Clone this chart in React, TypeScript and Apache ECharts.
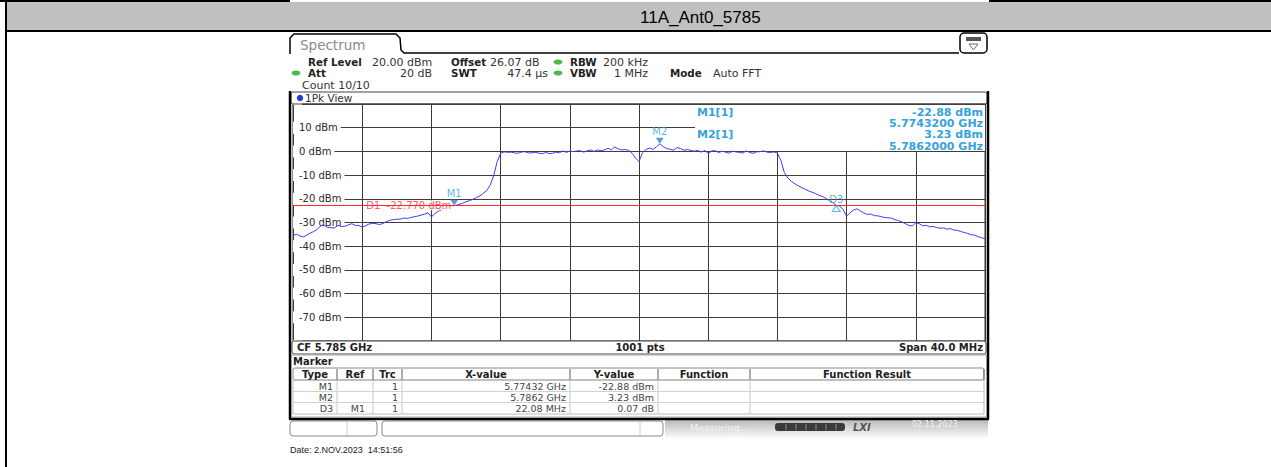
import React, { useEffect, useRef } from 'react';
import * as echarts from 'echarts';

// ---------- data ----------
const TITLE = '11A_Ant0_5785';
const centerFreqMHz = 5785;
const spanMHz = 40;
const sweepPoints = 1001;
const traceStepMHz = 0.2;
const xDivisionMHz = 4;
const refLevelDbm = 20;
const bottomLevelDbm = -80;
const levelDivisionDb = 10;
const offsetDb = 26.07;
const rbwKHz = 200;
const vbwMHz = 1;
const attDb = 20;
const swtUs = 47.4;
const sweepCount = '10/10';
const d1LevelDbm = -22.77;

// trace level (dBm) every 0.2 MHz from CF-20 MHz to CF+20 MHz
const traceLevels = [
  -35.5, -34.9, -35.7, -36.1, -35.3, -34.4, -33.8, -32.9, -31.4, -31.2,
  -32.1, -32.2, -32.3, -31.2, -31.7, -31.6, -31.0, -30.5, -31.2, -31.3,
  -31.9, -31.4, -30.6, -30.4, -30.5, -30.9, -30.4, -29.6, -29.1, -28.8,
  -28.6, -28.6, -28.1, -28.3, -27.9, -27.6, -27.3, -26.9, -26.5, -25.9,
  -27.6, -26.3, -25.2, -24.6, -24.0, -23.4, -23.0, -22.8, -22.4, -21.9,
  -21.2, -20.8, -20.2, -19.5, -18.8, -17.7, -16.5, -14.2, -10.2, -4.4,
  -0.8, -0.2, -0.4, -0.3, -0.6, -0.8, -0.3, -0.1, -0.6, -0.6,
  -0.4, -0.7, -1.0, -0.4, -0.9, -0.8, -0.3, -0.6, 0.2, -0.4,
  0.1, -0.1, 0.2, 0.3, -0.3, 0.2, 0.6, 0.0, 0.6, 0.3,
  0.6, 1.3, 0.7, 1.9, 1.0, 0.6, 0.8, 0.5, -0.8, -2.8,
  -4.3, -0.6, 0.8, 1.4, 0.8, 1.9, 3.2, 2.0, 1.2, 0.9,
  0.5, 1.6, 1.2, 0.5, 0.8, 0.4, 0.1, 0.4, -0.3, 0.4,
  -0.9, 0.2, 0.3, -0.5, 0.1, -0.3, -0.8, 0.1, -0.2, -0.4,
  -0.7, 0.2, -0.5, -0.8, -0.2, -0.1, 0.2, -0.3, -0.5, -0.2,
  -0.8, -3.8, -8.9, -11.2, -12.6, -13.6, -14.5, -15.3, -15.9, -16.7,
  -17.2, -17.8, -18.5, -19.0, -19.8, -20.8, -21.6, -22.8, -23.0, -24.6,
  -27.3, -25.9, -24.8, -24.2, -25.1, -26.0, -26.6, -26.4, -27.1, -27.2,
  -27.5, -27.9, -28.0, -28.2, -28.8, -29.2, -29.8, -30.5, -31.3, -31.4,
  -30.1, -30.5, -31.4, -31.2, -31.8, -31.7, -32.1, -32.4, -32.3, -32.8,
  -32.6, -33.2, -33.3, -33.8, -34.2, -34.6, -35.2, -35.3, -36.0, -36.4,
  -36.9,
];

// markers
const m1OffsetMHz = -10.68;
const m1LevelDbm = -22.88;
const m2OffsetMHz = 1.2;
const m2LevelDbm = 3.23;
const d3DeltaMHz = 22.08;
const d3DeltaDb = 0.07;
const markerTypes = ['M1', 'M2', 'D3'];
const markerRefs = ['', '', 'M1'];
const markerTrc = [1, 1, 1];
const tableHeaders = ['Type', 'Ref', 'Trc', 'X-value', 'Y-value', 'Function', 'Function Result'];

// ---------- helpers ----------
const FONT = '"DejaVu Sans", Verdana, sans-serif';
const ARIAL = '"Liberation Sans", Arial, sans-serif';
const MK = '#36a2dc';

function T(x: number, y: number, text: string, o: any = {}) {
  return {
    type: 'text', x, y, z: o.z ?? 20, silent: true,
    style: {
      text,
      fill: o.fill ?? '#222',
      font: `${o.italic ? 'italic ' : ''}${o.bold ? 'bold ' : ''}${o.size ?? 10}px ${o.family ?? FONT}`,
      textAlign: o.align ?? 'left',
      textVerticalAlign: 'middle',
    },
  };
}
function R(x: number, y: number, w: number, h: number, o: any = {}) {
  return {
    type: 'rect', z: o.z ?? 5, silent: true,
    shape: { x, y, width: w, height: h, r: o.r ?? 0 },
    style: { fill: o.fill ?? 'none', stroke: o.stroke ?? 'none', lineWidth: o.lw ?? 1 },
  };
}
function L(x1: number, y1: number, x2: number, y2: number, o: any = {}) {
  return {
    type: 'line', z: o.z ?? 6, silent: true,
    shape: { x1, y1, x2, y2 },
    style: { stroke: o.stroke ?? '#000', lineWidth: o.lw ?? 1 },
  };
}
const ghz = (mhz: number, d: number) => (mhz / 1000).toFixed(d);
const trimGhz = (mhz: number) => String(parseFloat((mhz / 1000).toFixed(7)));

export default function App() {
  const ref = useRef<HTMLDivElement>(null);
  useEffect(() => {
    if (!ref.current) return;
    const chart = echarts.init(ref.current, undefined, { renderer: 'svg' });

    const traceData = traceLevels.map((v, i) => [-spanMHz / 2 + i * traceStepMHz, v]);
    const d3OffsetMHz = m1OffsetMHz + d3DeltaMHz;
    const d3LevelDbm = m1LevelDbm + d3DeltaDb;

    const g: any[] = [];
    // page frame & title band
    g.push(R(7, 2, 1264, 28, { fill: '#c0c0c0', z: 1 }));
    g.push(T(640, 17, TITLE, { family: ARIAL, size: 17, fill: '#000' }));
    g.push(L(0, 1, 290, 1, { lw: 2 }));
    g.push(L(989, 1, 1271, 1, { lw: 2 }));
    g.push(L(6, 31, 1271, 31, { lw: 2 }));
    g.push(L(6, 0, 6, 467, { lw: 2 }));

    // Spectrum tab
    g.push({
      type: 'polyline', z: 6, silent: true,
      shape: { points: [[290, 54], [290, 38], [294, 34], [396, 34], [400, 38], [401, 50], [404, 53], [959, 53]] },
      style: { stroke: '#000', lineWidth: 1.5, fill: 'none' },
    });
    g.push(T(300, 45, 'Spectrum', { size: 13.5, fill: '#8a8a8a' }));
    g.push(R(960, 33, 27, 20, { stroke: '#000', lw: 1.5, r: 4 }));
    g.push(R(966, 37, 15, 4, { fill: '#555', z: 7 }));
    g.push({ type: 'polygon', z: 7, silent: true, shape: { points: [[969, 44], [978, 44], [973.5, 50]] }, style: { fill: 'none', stroke: '#666', lineWidth: 1 } });

    // setup lines
    const HS = 11;
    const HB = 10.3;
    const green = (x: number, y: number) => ({ type: 'ellipse', z: 7, silent: true, shape: { cx: x, cy: y, rx: 4.5, ry: 2.6 }, style: { fill: '#4cb84c' } });
    g.push(T(308, 62, 'Ref Level', { bold: true, size: HB }));
    g.push(T(372, 62, `${refLevelDbm.toFixed(2)} dBm`, { fill: '#333', size: HS }));
    g.push(T(451, 62, 'Offset', { bold: true, size: HB }));
    g.push(T(490, 62, `${offsetDb.toFixed(2)} dB`, { fill: '#333', size: HS }));
    g.push(green(558, 62));
    g.push(T(570, 62, 'RBW', { bold: true, size: HB }));
    g.push(T(648, 62, `${rbwKHz} kHz`, { fill: '#333', align: 'right', size: HS }));
    g.push(green(296, 73));
    g.push(T(308, 73, 'Att', { bold: true, size: HB }));
    g.push(T(432, 73, `${attDb} dB`, { fill: '#333', align: 'right', size: HS }));
    g.push(T(451, 73, 'SWT', { bold: true, size: HB }));
    g.push(T(548, 73, `${swtUs} µs`, { fill: '#333', align: 'right', size: HS }));
    g.push(green(558, 73));
    g.push(T(570, 73, 'VBW', { bold: true, size: HB }));
    g.push(T(648, 73, `${vbwMHz} MHz`, { fill: '#333', align: 'right', size: HS }));
    g.push(T(670, 73, 'Mode', { bold: true, size: HB }));
    g.push(T(713, 73, 'Auto FFT', { fill: '#333', size: HS }));
    g.push(T(302, 85, `Count ${sweepCount}`, { fill: '#333', size: HS }));

    // 1Pk View bar
    g.push(R(291, 92, 696, 12, { stroke: '#444', r: 2 }));
    g.push({ type: 'circle', z: 7, silent: true, shape: { cx: 300, cy: 98, r: 3.2 }, style: { fill: '#1f3fd6' } });
    g.push(T(305, 98, '1Pk View', { fill: '#333', size: 10.5 }));

    // outer screen frame
    g.push(L(290, 91, 290, 419, { lw: 2.5 }));
    g.push(L(988, 91, 988, 419, { lw: 2.5 }));
    g.push(L(289, 419, 989, 419, { lw: 2.5 }));

    // marker info box (top right of diagram)
    const MS = 11;
    g.push(R(695, 105, 290, 46, { fill: '#fff', z: 1 }));
    g.push(T(697, 112, 'M1[1]', { bold: true, fill: MK, size: MS }));
    g.push(T(983, 112, `${m1LevelDbm.toFixed(2)} dBm`, { bold: true, fill: MK, size: MS, align: 'right' }));
    g.push(T(983, 123, `${ghz(centerFreqMHz + m1OffsetMHz, 7)} GHz`, { bold: true, fill: MK, size: MS, align: 'right' }));
    g.push(T(697, 134.5, 'M2[1]', { bold: true, fill: MK, size: MS }));
    g.push(T(983, 134.5, `${m2LevelDbm.toFixed(2)} dBm`, { bold: true, fill: MK, size: MS, align: 'right' }));
    g.push(T(983, 146, `${ghz(centerFreqMHz + m2OffsetMHz, 7)} GHz`, { bold: true, fill: MK, size: MS, align: 'right' }));

    // CF bar
    g.push(R(292, 341, 694, 13, { stroke: '#444', r: 2, fill: '#fff', z: 4 }));
    g.push(T(297, 347.5, `CF ${ghz(centerFreqMHz, 3)} GHz`, { bold: true }));
    g.push(T(640, 347.5, `${sweepPoints} pts`, { bold: true, align: 'center' }));
    g.push(T(983, 347.5, `Span ${spanMHz.toFixed(1)} MHz`, { bold: true, align: 'right' }));

    // Marker table
    g.push(R(291, 355, 696, 62, { stroke: '#aaa', r: 2 }));
    g.push(T(293, 361.5, 'Marker', { bold: true }));
    const colSep = [293, 337, 373, 402, 570, 658, 750, 984];
    g.push(R(293, 368, 691, 12, { stroke: '#888', r: 2 }));
    g.push(R(293, 380, 691, 34, { stroke: '#bbb' }));
    tableHeaders.forEach((h, i) => {
      g.push(T((colSep[i] + colSep[i + 1]) / 2, 374.5, h, { bold: true, align: 'center' }));
      if (i > 0) {
        g.push(L(colSep[i], 369, colSep[i], 380, { stroke: '#777', lw: 1.2 }));
        g.push(L(colSep[i], 380, colSep[i], 414, { stroke: '#c8c8c8' }));
      }
    });
    g.push(L(colSep[colSep.length - 1], 369, colSep[colSep.length - 1], 380, { stroke: '#777', lw: 1.2 }));
    g.push(L(293, 391.5, 984, 391.5, { stroke: '#d0d0d0' }));
    g.push(L(293, 402.5, 984, 402.5, { stroke: '#d0d0d0' }));
    const xVals = [
      `${trimGhz(centerFreqMHz + m1OffsetMHz)} GHz`,
      `${trimGhz(centerFreqMHz + m2OffsetMHz)} GHz`,
      `${d3DeltaMHz.toFixed(2)} MHz`,
    ];
    const yVals = [`${m1LevelDbm.toFixed(2)} dBm`, `${m2LevelDbm.toFixed(2)} dBm`, `${d3DeltaDb.toFixed(2)} dB`];
    markerTypes.forEach((m, r) => {
      const y = 386 + r * 11;
      g.push(T(colSep[1] - 4, y, m, { fill: '#444', size: 9.5, align: 'right' }));
      if (markerRefs[r]) g.push(T(colSep[2] - 8, y, markerRefs[r], { fill: '#444', size: 9.5, align: 'right' }));
      g.push(T(colSep[3] - 4, y, String(markerTrc[r]), { fill: '#444', size: 9.5, align: 'right' }));
      g.push(T(colSep[4] - 4, y, xVals[r], { fill: '#444', size: 9.5, align: 'right' }));
      g.push(T(colSep[5] - 4, y, yVals[r], { fill: '#444', size: 9.5, align: 'right' }));
    });

    // status bar
    g.push(R(290, 421, 87, 15, { stroke: '#888', r: 3, lw: 1 }));
    g.push(L(347, 422, 347, 435, { stroke: '#ccc' }));
    g.push(R(382, 421, 281, 15, { stroke: '#888', r: 3, lw: 1 }));
    g.push(L(640, 422, 640, 435, { stroke: '#ccc' }));
    g.push({
      type: 'rect', z: 4, silent: true, shape: { x: 665, y: 420, width: 323, height: 18 },
      style: { fill: new echarts.graphic.LinearGradient(0, 0, 0, 1, [{ offset: 0, color: '#b9b9b9' }, { offset: 1, color: '#fbfbfb' }]) },
    });
    g.push(T(690, 427, 'Measuring...', { fill: '#f4f4f4', size: 9.5 }));
    g.push(R(775, 423, 70, 8, { fill: '#3a3a3a', r: 3, z: 6 }));
    [786, 796, 806, 816, 826, 836].forEach((x) => g.push(L(x, 424, x, 430, { stroke: '#888', z: 7 })));
    g.push(T(853, 427, 'LXI', { fill: '#555', size: 10, italic: true, bold: true }));
    g.push(T(912, 424, '02.11.2023', { fill: '#f2f2f2', size: 8 }));

    // date
    g.push(T(290, 450, 'Date: 2.NOV.2023  14:51:56', { family: ARIAL, size: 9, fill: '#222' }));

    chart.setOption({
      animation: false,
      backgroundColor: '#fff',
      grid: { left: 293, top: 104, width: 692, height: 237, show: true, borderColor: '#333', borderWidth: 1, containLabel: false },
      xAxis: {
        type: 'value', min: -spanMHz / 2, max: spanMHz / 2, interval: xDivisionMHz,
        axisLine: { show: false }, axisTick: { show: false }, axisLabel: { show: false },
        splitLine: { show: true, lineStyle: { color: '#3c3c3c', width: 1 } },
      },
      yAxis: {
        type: 'value', min: bottomLevelDbm, max: refLevelDbm, interval: levelDivisionDb,
        axisLine: { show: false }, axisTick: { show: false },
        axisLabel: {
          inside: true, margin: 0, color: '#2a2a2a', fontFamily: FONT, fontSize: 10,
          backgroundColor: '#fff', padding: [1, 3, 1, 6],
          formatter: (v: number) => (v === refLevelDbm || v === bottomLevelDbm ? '' : `${v} dBm`),
        },
        splitLine: { show: true, lineStyle: { color: '#3c3c3c', width: 1 } },
      },
      series: [
        {
          type: 'line', data: traceData, showSymbol: false, symbol: 'none', z: 2,
          lineStyle: { color: '#3d3df0', width: 1 },
          markLine: {
            silent: true, symbol: ['none', 'none'], label: { show: false },
            lineStyle: { color: '#ff2b2b', width: 1, type: 'solid' },
            data: [{ yAxis: d1LevelDbm }],
          },
        },
        {
          type: 'scatter', z: 4, silent: true,
          data: [{ value: [-spanMHz / 2 + xDivisionMHz, d1LevelDbm], name: 'D1' }],
          symbolSize: 0,
          label: {
            show: true, position: 'right', distance: 3, color: '#ff2b2b', fontFamily: FONT, fontSize: 10,
            backgroundColor: '#fff', padding: [0, 1, 0, 1],
            formatter: () => `D1  ${d1LevelDbm.toFixed(3)} dBm`,
          },
        },
        {
          type: 'scatter', z: 5, silent: true,
          data: [
            { value: [m1OffsetMHz, m1LevelDbm], name: markerTypes[0] },
            { value: [m2OffsetMHz, m2LevelDbm], name: markerTypes[1] },
          ],
          symbol: 'triangle', symbolRotate: 180, symbolSize: [8, 6], symbolOffset: [0, -3],
          itemStyle: { color: '#2a8ad6' },
          label: { show: true, position: 'top', distance: 1, color: MK, fontFamily: FONT, fontSize: 10, formatter: (p: any) => p.name },
        },
        {
          type: 'scatter', z: 5, silent: true,
          data: [{ value: [d3OffsetMHz, d3LevelDbm], name: markerTypes[2] }],
          symbol: 'triangle', symbolSize: [8, 6], symbolOffset: [0, 3],
          itemStyle: { color: '#fff', borderColor: MK, borderWidth: 1 },
          label: { show: true, position: 'top', distance: 1, color: MK, fontFamily: FONT, fontSize: 10, formatter: (p: any) => p.name },
        },
      ],
      graphic: { elements: g },
    });
    return () => chart.dispose();
  }, []);
  return <div ref={ref} style={{ position: 'fixed', left: 0, top: 0, width: 1271, height: 467, background: '#fff' }} />;
}
